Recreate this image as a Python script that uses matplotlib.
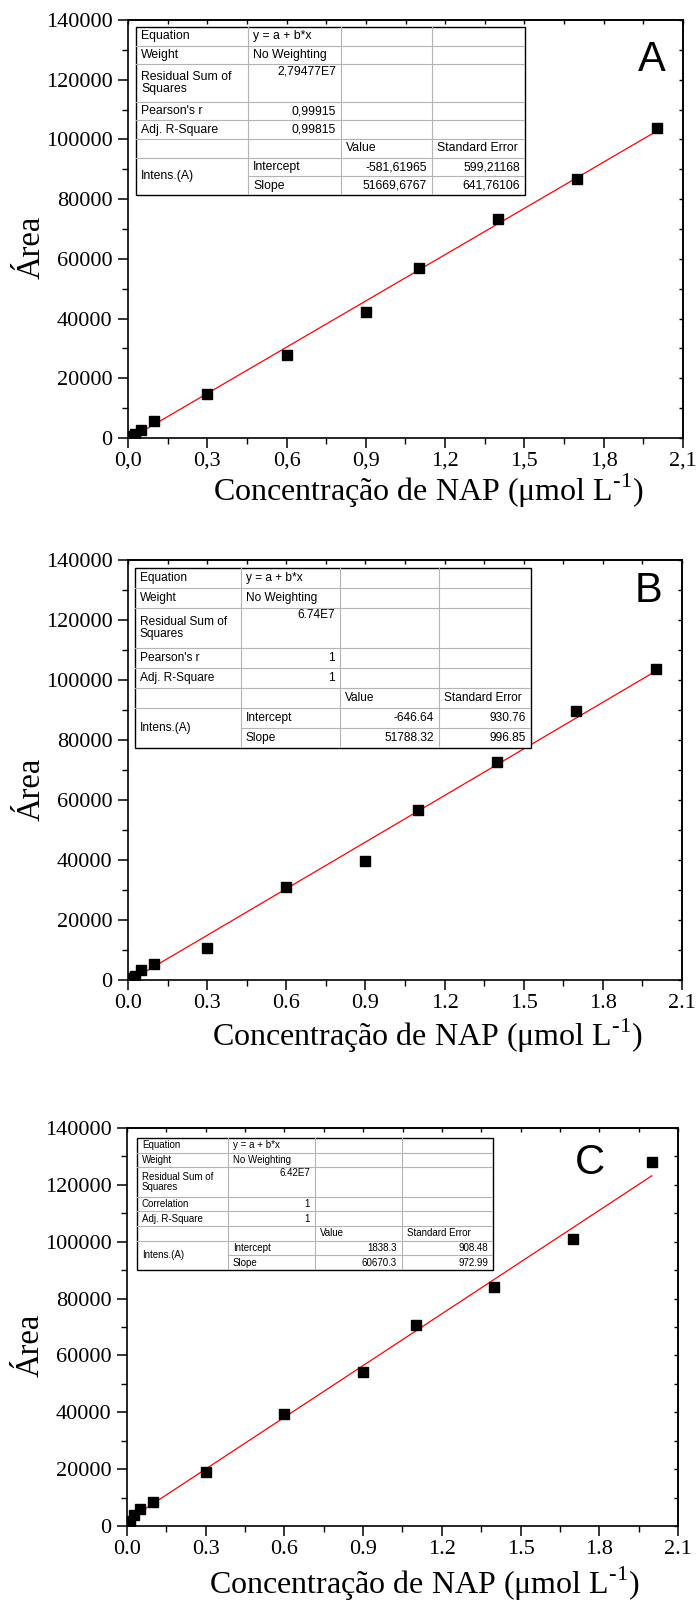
import numpy as np
import matplotlib
matplotlib.use('Agg')
from matplotlib import pyplot as plt

###############################################################################
# Data
###############################################################################

conc = [0.005, 0.01, 0.025, 0.05, 0.1, 0.3, 0.6, 0.9, 1.1, 1.4, 1.7, 2.0]

area_A = [300, 700, 1500, 2800, 5600, 14700, 27800, 42200, 56800, 73400, 86900, 103800]
area_B = [300, 700, 1400, 3300, 5400, 10800, 31000, 39700, 56500, 72500, 89500, 103800]
area_C = [600, 1800, 3900, 5900, 8600, 18900, 39400, 54300, 70800, 84200, 101000, 128000]

# linear fits (intercept, slope) as reported in the tables
fit_A = (-581.61965, 51669.6767)
fit_B = (-646.64, 51788.32)
fit_C = (1838.3, 60670.3)

xticks = [0.0, 0.3, 0.6, 0.9, 1.2, 1.5, 1.8, 2.1]
xticklabels_comma = ['0,0', '0,3', '0,6', '0,9', '1,2', '1,5', '1,8', '2,1']
xticklabels_dot = ['0.0', '0.3', '0.6', '0.9', '1.2', '1.5', '1.8', '2.1']
yticks = [0, 20000, 40000, 60000, 80000, 100000, 120000, 140000]

table_A = [['Equation', 'y = a + b*x', '', ''],
           ['Weight', 'No Weighting', '', ''],
           ['Residual Sum of\nSquares', '2,79477E7', '', ''],
           ["Pearson's r", '0,99915', '', ''],
           ['Adj. R-Square', '0,99815', '', ''],
           ['', '', 'Value', 'Standard Error'],
           ['Intens.(A)', 'Intercept', '-581,61965', '599,21168'],
           ['', 'Slope', '51669,6767', '641,76106']]

table_B = [['Equation', 'y = a + b*x', '', ''],
           ['Weight', 'No Weighting', '', ''],
           ['Residual Sum of\nSquares', '6.74E7', '', ''],
           ["Pearson's r", '1', '', ''],
           ['Adj. R-Square', '1', '', ''],
           ['', '', 'Value', 'Standard Error'],
           ['Intens.(A)', 'Intercept', '-646.64', '930.76'],
           ['', 'Slope', '51788.32', '996.85']]

table_C = [['Equation', 'y = a + b*x', '', ''],
           ['Weight', 'No Weighting', '', ''],
           ['Residual Sum of\nSquares', '6.42E7', '', ''],
           ['Correlation', '1', '', ''],
           ['Adj. R-Square', '1', '', ''],
           ['', '', 'Value', 'Standard Error'],
           ['Intens.(A)', 'Intercept', '1838.3', '908.48'],
           ['', 'Slope', '60670.3', '972.99']]

# hyphen (U+2010) in the superscript, like the original
xlabel = 'Concentração de NAP (μmol L$^{\\mathregular{\u2010 1}}$)'.replace('\u2010 1', '\u20101')
ylabel = 'Área'

###############################################################################
# Plotting
###############################################################################

plt.rcParams.update({'font.family': 'Liberation Serif',
                     'mathtext.fontset': 'custom',
                     'mathtext.rm': 'Liberation Serif',
                     'axes.linewidth': 1.2})

W, H = 697, 1603
fig = plt.figure(figsize=(W / 100, H / 100), dpi=100)


def px_axes(left, top, right, bottom):
    # add axes from pixel box
    return fig.add_axes([left / W, 1 - bottom / H, (right - left) / W, (bottom - top) / H])


def draw_panel(box, x, y, fit, xlabels, letter, letter_xy, xlab_off):
    ax = px_axes(*box)
    height = box[3] - box[1]
    ax.plot(x, y, 's', color='black', markersize=6.5, zorder=3)
    xf = np.array([x[0], x[-1]])
    ax.plot(xf, fit[0] + fit[1] * xf, color='red', lw=0.9, zorder=2)
    ax.set_xlim(0, 2.1)
    ax.set_ylim(0, 140000)
    ax.set_xticks(xticks)
    ax.set_xticklabels(xlabels)
    ax.set_yticks(yticks)
    ax.set_xticks(np.arange(0.15, 2.1, 0.3), minor=True)
    ax.set_yticks(np.arange(10000, 140000, 20000), minor=True)
    ax.tick_params(which='major', direction='out', length=7, width=1.1,
                   labelsize=16, top=False, right=False)
    ax.tick_params(which='minor', direction='out', length=4, width=1.0,
                   top=False, right=False)
    ax.tick_params(axis='x', pad=3)
    ax.tick_params(axis='y', pad=4)

    # inward ticks on top and right
    top = ax.secondary_xaxis('top')
    top.set_xticks(np.arange(0, 2.11, 0.15))
    top.tick_params(direction='in', length=3, width=1.0, labeltop=False)
    right = ax.secondary_yaxis('right')
    right.set_yticks(np.arange(0, 140001, 10000))
    right.tick_params(direction='in', length=3, width=1.0, labelright=False)

    ax.set_xlabel(xlabel, fontsize=23, va='center')
    ax.xaxis.set_label_coords(0.54, -xlab_off / height)
    ax.set_ylabel(ylabel, fontsize=23.5, va='center')
    ax.yaxis.set_label_coords(-0.175, 0.455)

    fig.text(letter_xy[0] / W, 1 - letter_xy[1] / H, letter, family='Liberation Sans',
             fontsize=30, ha='center', va='center')
    return ax


def draw_table(box, cols, rows, fontsize):
    left, top, right, bottom = box
    tab = px_axes(left, top, right, bottom)
    w, h = right - left, bottom - top
    tab.set_xlim(0, w)
    tab.set_ylim(h, 0)
    tab.axis('off')
    tab.add_patch(plt.Rectangle((0, 0), w, h, facecolor='white', edgecolor='none'))
    spans = [1, 1, 2, 1, 1, 1, 1, 1]
    unit = h / sum(spans)
    cx = [c - left for c in cols]
    gray = '#b4b4b4'
    pad = 5
    lead = fontsize * 1.45  # line spacing in px
    y0 = 0
    for r, (row, span) in enumerate(zip(rows, spans)):
        # horizontal line below row
        y1 = y0 + span * unit
        if r == 6:
            tab.plot([cx[1], w], [y1, y1], color=gray, lw=0.8)
        elif r < len(rows) - 1:
            tab.plot([0, w], [y1, y1], color=gray, lw=0.8)
        for c, txt in enumerate(row):
            if not txt:
                continue
            lines = txt.split('\n')
            numeric = c > 0 and (txt[0].isdigit() or txt[0] == '-')
            if numeric:
                tx, ha = cx[c + 1] - pad, 'right'
            else:
                tx, ha = cx[c] + pad, 'left'
            if span == 2 and numeric:
                tab.text(tx, y0 + 1, txt, ha=ha, va='top',
                         family='Liberation Sans', fontsize=fontsize)
                continue
            mid = (y0 + y1) / 2
            if r == 6 and c == 0:
                mid = y1
            for k, ln in enumerate(lines):
                ty = mid + (k - (len(lines) - 1) / 2) * lead
                tab.text(tx, ty, ln, ha=ha, va='center',
                         family='Liberation Sans', fontsize=fontsize)
        y0 = y1
    for c in cx[1:-1]:
        tab.plot([c, c], [0, h], color=gray, lw=0.8)
    tab.add_patch(plt.Rectangle((0, 0), w, h, facecolor='none', edgecolor='black',
                                lw=1.0, clip_on=False))


draw_panel((128, 20, 683, 438), conc, area_A, fit_A, xticklabels_comma, 'A', (652, 60), 53)
draw_table((136, 27, 525, 195), [136, 248, 341, 432, 525], table_A, 8.8)

draw_panel((128, 560, 682, 980), conc, area_B, fit_B, xticklabels_dot, 'B', (648, 591), 56)
draw_table((135, 568, 531, 748), [135, 241, 340, 439, 531], table_B, 8.6)

draw_panel((127, 1128, 678, 1526), conc, area_C, fit_C, xticklabels_dot, 'C', (590, 1163), 58)
draw_table((137, 1138, 493, 1270), [137, 228, 315, 402, 493], table_C, 7.0)

fig.savefig('out.png', dpi=100)
